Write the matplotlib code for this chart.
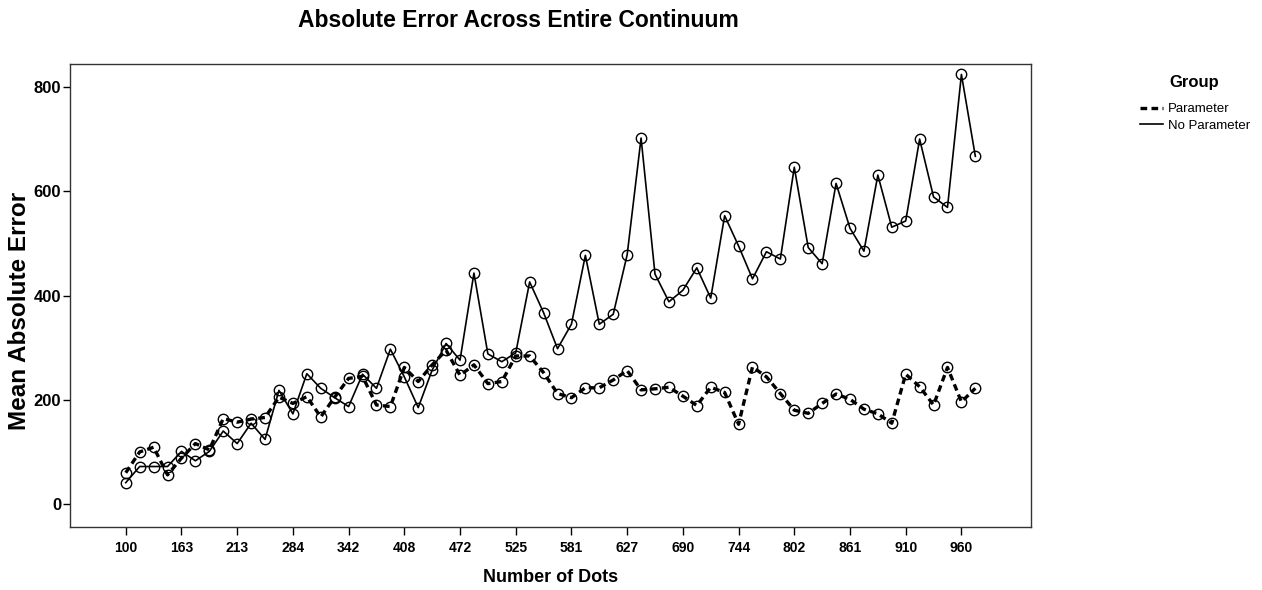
import matplotlib.pyplot as plt
import numpy as np

plt.rcParams['font.family'] = ['Liberation Sans', 'DejaVu Sans']

# dot-count categories, one label shown every 4th category
tick_labels = ['100', '163', '213', '284', '342', '408', '472', '525',
               '581', '627', '690', '744', '802', '861', '910', '960']

no_parameter = [41, 72, 72, 72, 101, 83, 101, 140, 116, 155,
                124, 218, 173, 250, 222, 204, 187, 249, 222, 297,
                244, 185, 257, 308, 276, 443, 288, 273, 290, 426,
                367, 298, 345, 477, 345, 364, 478, 702, 441, 388,
                410, 453, 395, 553, 495, 432, 484, 470, 646, 492,
                461, 615, 529, 485, 631, 531, 543, 700, 589, 569,
                824, 667]

parameter = [60, 100, 109, 56, 88, 116, 104, 164, 157, 163,
             166, 205, 193, 206, 167, 205, 241, 245, 190, 187,
             262, 235, 267, 295, 247, 267, 231, 235, 284, 284,
             252, 212, 204, 223, 223, 238, 256, 219, 221, 224,
             207, 189, 224, 214, 153, 263, 244, 212, 180, 174,
             193, 211, 201, 182, 173, 155, 249, 225, 190, 262,
             196, 222]

x = np.arange(len(no_parameter))

fig = plt.figure(figsize=(12.62, 5.9), dpi=100)
ax = fig.add_axes([0.0555, 0.1068, 0.7615, 0.7847])

dash = (0, (2.0, 1.3))
ax.plot(x, parameter, color='black', lw=2.4, linestyle=dash,
        marker='o', ms=7.5, mfc='none', mec='black', mew=1.0,
        label='Parameter')
ax.plot(x, no_parameter, color='black', lw=1.2, linestyle='-',
        marker='o', ms=7.5, mfc='none', mec='black', mew=1.0,
        label='No Parameter')

ax.set_xlim(-4, 65)
ax.set_ylim(-44, 844)
ax.set_xticks(x[::4])
ax.set_xticklabels(tick_labels)
ax.set_yticks([0, 200, 400, 600, 800])

for lab in ax.get_xticklabels() + ax.get_yticklabels():
    lab.set_fontweight('bold')
ax.tick_params(axis='x', labelsize=10, length=6, width=1, direction='out', pad=4)
ax.tick_params(axis='y', labelsize=12, length=5, width=1, direction='out', pad=1.5)

for sp in ax.spines.values():
    sp.set_linewidth(1.0)
    sp.set_color('#333333')

ax.set_xlabel('Number of Dots', fontsize=13, fontweight='bold', labelpad=10)
ax.set_ylabel('Mean Absolute Error', fontsize=17.5, fontweight='bold')
ax.yaxis.set_label_coords(-0.041, 0.466)

fig.text(0.411, 0.966, 'Absolute Error Across Entire Continuum',
         ha='center', va='center', fontsize=16.5, fontweight='bold')

# legend block: title placed on its own, entries below it
fig.text(0.946, 0.861, 'Group', ha='center', va='center',
         fontsize=12, fontweight='bold')
leg_handles = [plt.Line2D([], [], color='black', lw=2.4, linestyle=dash),
               plt.Line2D([], [], color='black', lw=1.2)]
fig.legend(leg_handles, ['Parameter', 'No Parameter'], loc='upper left',
           bbox_to_anchor=(0.903, 0.8255), frameon=False,
           fontsize=9.5, handlelength=1.8, handletextpad=0.35,
           labelspacing=0.35, borderpad=0, borderaxespad=0)

fig.savefig('out.png', dpi=100)
